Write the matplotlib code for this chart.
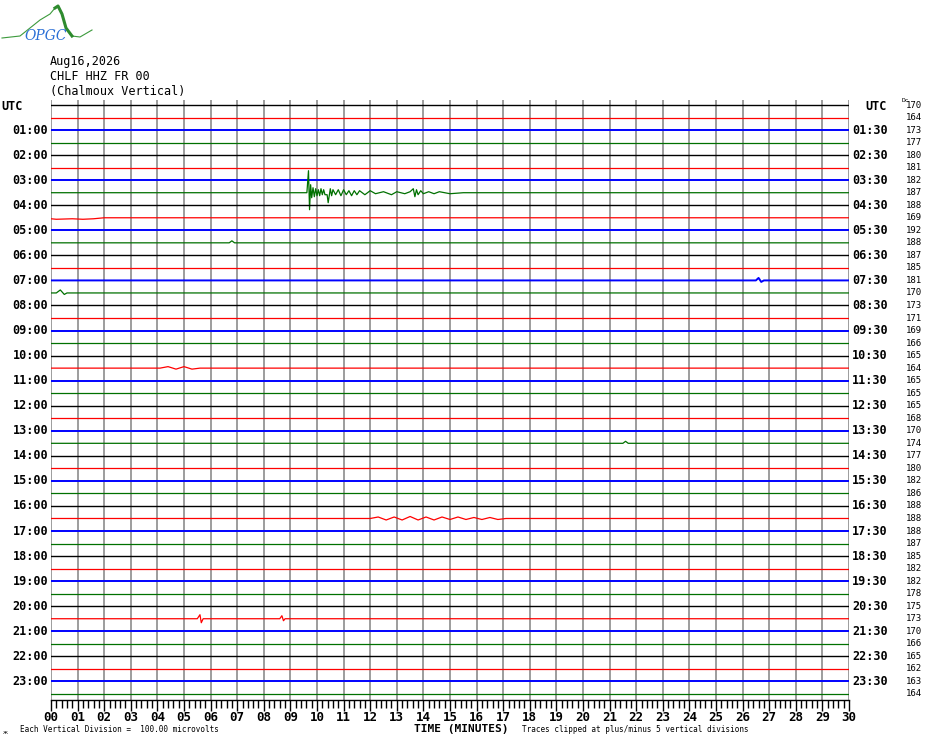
import numpy as np
import matplotlib.pyplot as plt

# --- data ---
header = ['Aug16,2026', 'CHLF HHZ FR 00', '(Chalmoux Vertical)']
minutes = list(range(31))
tick_labels = ['%02d' % m for m in minutes]
left_labels = ['UTC'] + ['%02d:00' % h for h in range(1, 24)]
right_labels = ['UTC'] + ['%02d:30' % h for h in range(1, 24)]
dc_values = [170, 164, 173, 177, 180, 181, 182, 187, 188, 169, 192, 188,
             187, 185, 181, 170, 173, 171, 169, 166, 165, 164, 165, 165,
             165, 168, 170, 174, 177, 180, 182, 186, 188, 188, 188, 187,
             185, 182, 182, 178, 175, 173, 170, 166, 165, 162, 163, 164]
trace_colors = ['black', '#ff0000', '#0000ff', '#007000']
trace_widths = [1.0, 0.9, 1.4, 0.9]

# events: trace index -> (minutes, offsets in pixels, up positive)
quake_t = [0, 9.62, 9.68, 9.72, 9.76, 9.8, 9.85, 9.9, 9.95, 10.0, 10.05, 10.1,
           10.15, 10.2, 10.25, 10.3, 10.38, 10.42, 10.46, 10.5, 10.55, 10.6,
           10.7, 10.8, 10.9, 11.0, 11.1, 11.2, 11.3, 11.4, 11.5, 11.6, 11.8,
           12.0, 12.2, 12.5, 12.8, 13.0, 13.3, 13.5, 13.62, 13.68, 13.74,
           13.8, 13.9, 14.0, 14.2, 14.4, 14.6, 15.0, 15.5, 30]
quake_a = [0, 0, 22, -17, 8, -5, 5, -4, 4, -3, 3, -3, 4, -2, 3, -2, -2, -10,
           -3, 4, -3, 3, -2, 3, -3, 3, -2, 2, -3, 2, -2, 2, -2, 2, -1, 1, -2,
           1, -1, 1, 4, -4, 3, -2, 2, -1, 1, -1, 1, -1, 0, 0]
red_start_t = [0, 0.2, 0.8, 1.2, 1.6, 2.0, 30]
red_start_a = [-1, -1.5, -1, -1.5, -1, 0, 0]
blue_blip_t = [0, 26.5, 26.6, 26.7, 26.8, 30]
blue_blip_a = [0, 0, 2.5, -1.5, 0, 0]
green_blip_t = [0, 0.2, 0.35, 0.5, 0.6, 30]
green_blip_a = [0, 0, 3, -1.5, 0, 0]
red_1030_t = [0, 4.1, 4.4, 4.7, 5.0, 5.3, 5.6, 30]
red_1030_a = [0, 0, 1.5, -1, 1.5, -1, 0, 0]
osc_t = [0, 12.0, 12.3, 12.6, 12.9, 13.2, 13.5, 13.8, 14.1, 14.4, 14.7, 15.0,
         15.3, 15.6, 15.9, 16.2, 16.5, 16.8, 17.1, 30]
osc_a = [0, 0, 1.5, -1.5, 1.5, -1.5, 2, -1.5, 1.5, -1.5, 1.5, -1, 1.5, -1, 1,
         -1, 1, -1, 0, 0]
red_2030_t = [0, 5.5, 5.6, 5.65, 5.72, 8.6, 8.68, 8.74, 8.8, 30]
red_2030_a = [0, 0, 4, -4, 0, 0, 3, -2, 0, 0]
green_1330_t = [0, 21.5, 21.6, 21.7, 30]
green_1330_a = [0, 0, 2, 0, 0]
green_0530_t = [0, 6.7, 6.8, 6.9, 30]
green_0530_a = [0, 0, 2, 0, 0]

events = {
    7: (quake_t, quake_a),
    9: (red_start_t, red_start_a),
    11: (green_0530_t, green_0530_a),
    14: (blue_blip_t, blue_blip_a),
    15: (green_blip_t, green_blip_a),
    21: (red_1030_t, red_1030_a),
    27: (green_1330_t, green_1330_a),
    33: (osc_t, osc_a),
    41: (red_2030_t, red_2030_a),
}

ntr = 48
spacing_px = 12.53
mono = 'DejaVu Sans Mono'

fig = plt.figure(figsize=(9.3, 7.44), dpi=100)
ax = fig.add_axes([51 / 930, 1 - 700 / 744, 798 / 930, 600 / 744])
ax.set_xlim(0, 30)
ax.set_ylim((700 - 105) / spacing_px, -5 / spacing_px)

for m in minutes:
    ax.axvline(m, color='#8c8c8c', lw=1.2, zorder=1)

for i in range(ntr):
    c = trace_colors[i % 4]
    w = trace_widths[i % 4]
    if i in events:
        t, a = events[i]
        y = [i - v / spacing_px for v in a]
        ax.plot(t, y, color=c, lw=w, zorder=2)
    else:
        ax.plot([0, 30], [i, i], color=c, lw=w, zorder=2)

for sp in ['top', 'left', 'right']:
    ax.spines[sp].set_visible(False)
ax.spines['bottom'].set_color('black')
ax.spines['bottom'].set_linewidth(1.0)
ax.set_yticks([])
ax.set_xticks(minutes)
ax.set_xticks(np.arange(0, 30.01, 0.2), minor=True)
ax.set_xticklabels(tick_labels, fontfamily=mono, fontweight='bold', fontsize=9)
ax.tick_params(axis='x', which='major', length=8, width=1, pad=0)
ax.tick_params(axis='x', which='minor', length=6, width=1)

for k in range(24):
    i = 2 * k
    if k == 0:
        fig.text(1 / 930, 1 - 106 / 744, left_labels[0], ha='left', va='center',
                 fontfamily=mono, fontweight='bold', fontsize=8.5)
        fig.text(865 / 930, 1 - 106 / 744, right_labels[0], ha='left',
                 va='center', fontfamily=mono, fontweight='bold', fontsize=8.5)
        continue
    ax.text(-0.1, i, left_labels[k], ha='right', va='center',
            fontfamily=mono, fontweight='bold', fontsize=8.5, clip_on=False)
    ax.text(30.12, i, right_labels[k], ha='left', va='center',
            fontfamily=mono, fontweight='bold', fontsize=8.5, clip_on=False)
for i in range(ntr):
    ax.text(32.76, i, str(dc_values[i]), ha='right', va='center',
            fontfamily=mono, fontsize=6.5, clip_on=False)
fig.text(902 / 930, 1 - 100 / 744, 'Dc', ha='left', va='center',
         fontfamily=mono, fontsize=4.5)

# header
for j, s in enumerate(header):
    fig.text(50 / 930, 1 - (61 + j * 15.5) / 744, s, ha='left', va='center',
             fontfamily=mono, fontsize=8.5)

# bottom captions
fig.text(20 / 930, 1 - 730 / 744, 'Each Vertical Division =  100.00 microvolts',
         ha='left', va='center', fontfamily=mono, fontsize=5.5)
fig.text(414 / 930, 1 - 729 / 744, 'TIME (MINUTES)', ha='left', va='center',
         fontfamily=mono, fontweight='bold', fontsize=8)
fig.text(522 / 930, 1 - 730 / 744,
         'Traces clipped at plus/minus 5 vertical divisions',
         ha='left', va='center', fontfamily=mono, fontsize=5.5)
fig.text(3 / 930, 1 - 733 / 744, 'ж', ha='left', va='center', fontsize=4)

# logo
lx = [2, 20, 40, 50, 55, 58, 62, 66, 72, 80, 92]
ly = [38, 36, 20, 14, 8, 6, 14, 28, 36, 37, 30]
lax = fig.add_axes([0, 1 - 45 / 744, 100 / 930, 45 / 744])
lax.set_xlim(0, 100)
lax.set_ylim(45, 0)
lax.axis('off')
lax.plot(lx, ly, color='#3c9a3c', lw=0.8)
lax.plot(lx[4:9], ly[4:9], color='#2e8b2e', lw=2.2)
lax.text(46, 36, 'OPGC', ha='center', va='center', color='#2a6fd6',
         fontsize=10, fontstyle='italic', fontfamily='DejaVu Serif')

fig.savefig('out.png', dpi=100)
